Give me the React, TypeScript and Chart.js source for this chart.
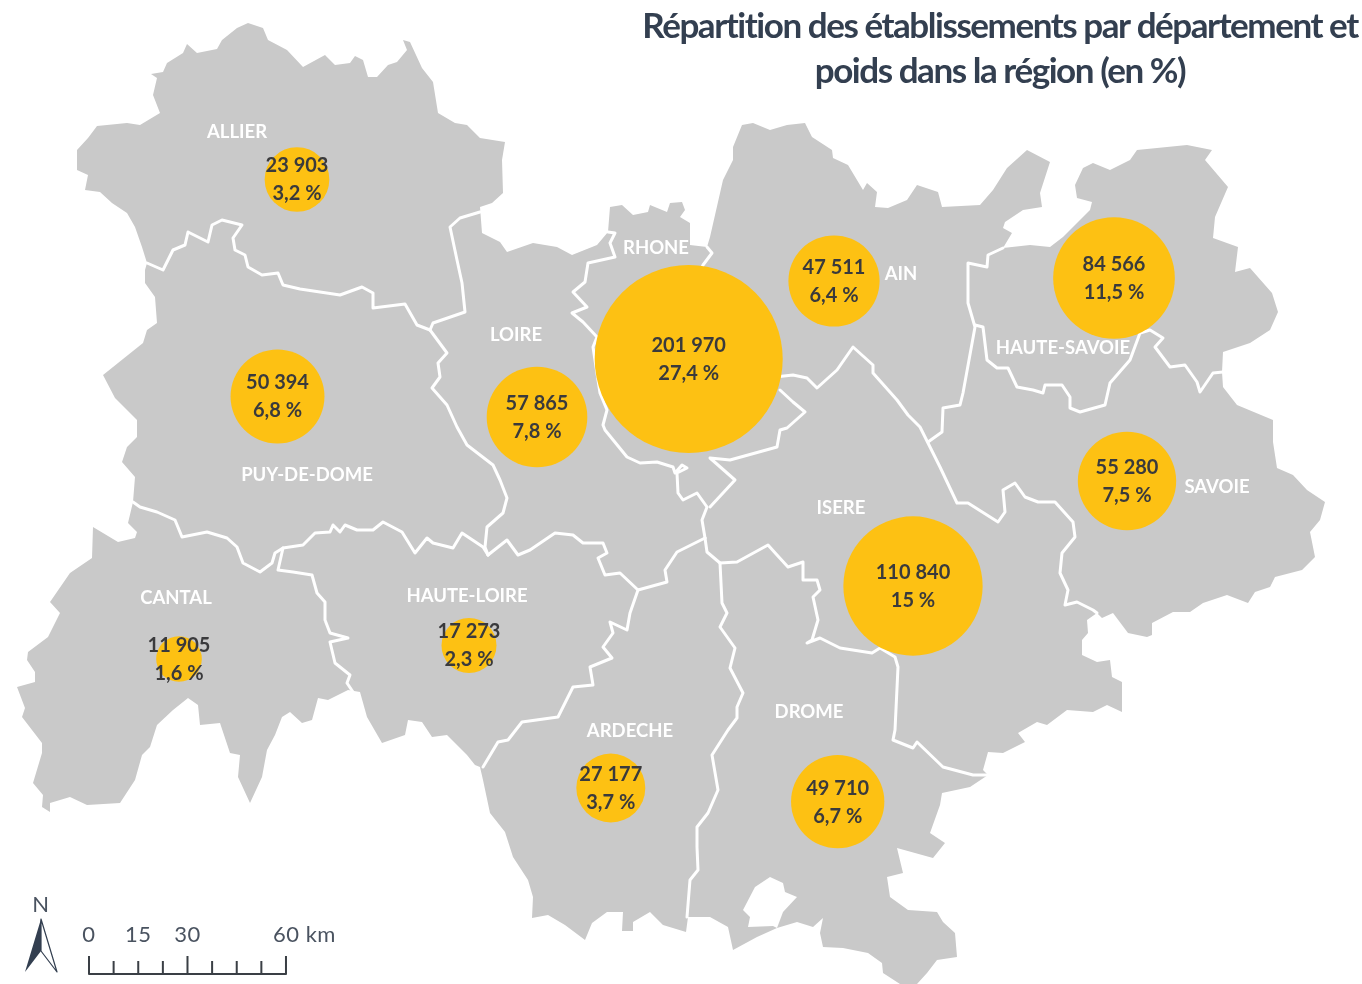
import React, { useEffect, useRef } from "react";
import { Chart, registerables } from "chart.js";

Chart.register(...registerables);

type P = [number, number];

const departments = ["ALLIER", "PUY-DE-DOME", "CANTAL", "HAUTE-LOIRE", "LOIRE", "RHONE", "AIN", "HAUTE-SAVOIE", "SAVOIE", "ISERE", "DROME", "ARDECHE"];
const establishments = [23903, 50394, 11905, 17273, 57865, 201970, 47511, 84566, 55280, 110840, 49710, 27177];
const shares = ["3,2 %", "6,8 %", "1,6 %", "2,3 %", "7,8 %", "27,4 %", "6,4 %", "11,5 %", "7,5 %", "15 %", "6,7 %", "3,7 %"];
const bubbleAnchors: P[] = [[297, 179.5], [277.5, 396.5], [179, 659], [469, 645.5], [537, 417], [688.7, 359], [834, 281], [1114, 278], [1127, 481], [913, 586], [837.7, 801.7], [610.8, 788]];
const nameAnchors: P[] = [[237, 132], [307, 475], [176, 598], [467, 596], [516, 335], [656, 248], [901, 274], [1063, 348], [1217, 487], [841, 508], [809, 712], [630, 731]];

const regionOutline: P[] = [
  [147,263],[142,247],[135,227],[127,213],[112,203],[100,192],[85,190],[88,175],[77,170],[77,150],[88,138],[97,126],[127,123],[140,125],[160,113],[153,95],[157,78],[151,74],[163,72],[167,63],[183,53],[187,44],[197,53],[217,49],[222,40],[237,28],[248,23],[263,28],[268,40],[287,50],[303,67],[325,55],[335,65],[350,63],[355,56],[363,60],[368,77],[377,77],[388,65],[397,62],[407,50],[403,40],[410,42],[422,68],[433,82],[438,113],[455,123],[467,125],[480,138],[505,142],[502,160],[503,193],[492,203],[480,207],[482,233],[500,242],[507,252],[533,243],[557,247],[572,255],[597,245],[608,232],[610,207],[622,205],[633,215],[648,212],[650,205],[667,212],[670,203],[682,202],[685,210],[680,217],[690,223],[690,245],[707,247],[710,237],[723,180],[733,160],[733,147],[742,125],[753,123],[770,130],[787,125],[805,123],[812,137],[832,150],[833,158],[848,165],[863,190],[867,183],[877,192],[875,207],[888,208],[907,200],[917,185],[938,192],[942,207],[980,205],[993,190],[1007,168],[1027,150],[1050,162],[1040,193],[1042,207],[1023,210],[1005,222],[1003,228],[1012,233],[1003,248],[1030,245],[1050,247],[1063,237],[1090,210],[1092,202],[1077,198],[1075,185],[1083,168],[1093,163],[1110,170],[1130,160],[1137,150],[1187,145],[1212,150],[1205,160],[1228,187],[1215,217],[1213,238],[1238,247],[1235,272],[1250,268],[1272,293],[1278,312],[1270,330],[1250,343],[1223,352],[1222,372],[1223,387],[1237,405],[1273,420],[1273,442],[1277,468],[1293,475],[1307,490],[1325,502],[1320,520],[1310,532],[1315,557],[1302,570],[1275,577],[1270,587],[1255,592],[1248,603],[1227,595],[1203,603],[1190,612],[1173,612],[1152,623],[1152,635],[1147,637],[1128,633],[1113,613],[1102,618],[1097,613],[1087,620],[1088,633],[1082,640],[1082,655],[1097,662],[1110,660],[1112,677],[1122,682],[1122,712],[1107,705],[1093,712],[1067,710],[1047,725],[1037,722],[1018,733],[1025,742],[1003,753],[988,752],[983,770],[988,775],[970,787],[942,793],[940,805],[930,833],[945,843],[933,858],[897,848],[903,873],[887,877],[890,897],[908,910],[937,912],[943,922],[955,933],[957,957],[937,960],[927,973],[917,984],[900,984],[883,973],[882,963],[868,953],[843,948],[823,947],[820,933],[823,918],[813,927],[797,922],[777,928],[757,937],[733,950],[728,927],[710,917],[688,917],[686,932],[663,925],[650,912],[633,922],[633,931],[622,931],[623,912],[607,912],[592,923],[585,940],[565,925],[548,915],[532,918],[533,897],[528,880],[513,857],[505,832],[490,813],[483,780],[480,767],[475,765],[467,755],[447,735],[432,737],[422,722],[408,720],[405,735],[382,743],[367,717],[360,692],[348,690],[328,700],[318,698],[312,720],[302,723],[290,712],[282,717],[275,735],[267,750],[262,777],[250,803],[238,777],[240,755],[230,753],[220,723],[200,725],[198,705],[188,698],[173,710],[157,725],[150,747],[142,755],[135,780],[120,803],[87,805],[70,797],[50,803],[50,812],[42,807],[43,795],[33,783],[42,753],[42,743],[22,717],[25,708],[17,687],[35,682],[35,672],[27,660],[28,652],[48,637],[60,613],[50,602],[70,573],[92,558],[93,527],[118,542],[135,538],[137,532],[128,523],[133,502],[135,477],[122,462],[127,447],[137,437],[137,420],[115,398],[103,375],[118,363],[143,343],[147,330],[157,323],[155,297],[145,283],[145,270],[147,263],
];
const enclave: P[] = [[770,877],[783,883],[785,892],[797,897],[783,912],[777,928],[773,926],[748,927],[750,917],[743,910],[755,887],[770,877]];

const borders: P[][] = [
  [[147,263],[163,270],[173,250],[185,245],[188,232],[208,242],[212,225],[222,220],[242,225],[233,238],[235,250],[245,255],[248,267],[262,275],[278,273],[283,285],[300,289],[340,295],[362,287],[373,293],[373,308],[405,304],[417,325],[430,330]],
  [[430,330],[433,323],[465,312],[462,283],[457,260],[450,227],[460,218],[480,212]],
  [[430,330],[447,353],[438,363],[440,377],[432,388],[447,405],[457,427],[467,445],[493,465],[500,480],[507,498],[503,513],[487,527],[485,547],[488,555]],
  [[133,502],[140,507],[157,512],[175,520],[182,537],[207,532],[227,538],[237,547],[243,563],[260,572],[272,563],[275,553],[283,548],[303,545],[315,533],[330,532],[333,525],[340,532],[345,525],[357,530],[373,530],[383,522],[402,532],[415,553],[427,538],[433,543],[453,548],[462,533],[483,547],[488,555]],
  [[283,548],[278,570],[293,572],[312,575],[317,593],[325,602],[325,620],[330,633],[348,638],[330,642],[335,663],[350,675],[347,683],[353,692]],
  [[488,555],[507,540],[518,555],[530,550],[555,533],[573,535],[583,543],[603,543],[607,553],[598,558],[605,575],[620,573],[638,590],[667,582],[665,570],[677,552],[705,538]],
  [[638,590],[630,613],[627,630],[610,622],[613,633],[603,647],[612,658],[590,667],[593,685],[573,687],[558,717],[522,722],[508,740],[498,742],[483,767]],
  [[705,538],[702,520],[707,507],[697,493],[683,500],[678,493],[677,473],[687,468],[682,465],[675,473],[673,467],[657,462],[640,463],[627,457],[605,430],[603,425],[607,410],[600,393],[593,347],[597,337],[583,322],[572,313],[587,307],[573,292],[585,282],[588,263],[615,257],[610,243],[615,233],[608,232]],
  [[707,247],[712,253],[703,265],[690,300]],
  [[775,377],[793,375],[807,378],[817,388],[837,370],[853,347],[873,365],[873,373],[897,400],[908,415],[920,427],[928,443],[940,467],[957,503],[968,503],[998,522],[1005,512],[1003,490],[1015,483],[1025,497],[1038,502],[1055,502],[1073,522],[1075,537],[1062,553],[1060,573],[1068,590],[1065,605],[1077,602],[1093,610],[1097,613]],
  [[780,390],[793,402],[805,412],[787,428],[780,430],[777,447],[730,460],[710,458],[735,480],[710,507]],
  [[928,442],[942,432],[943,408],[960,405],[963,393],[975,327],[968,303],[968,263],[987,267],[988,255],[1003,248]],
  [[975,325],[983,327],[987,360],[997,368],[1008,368],[1017,387],[1033,390],[1043,393],[1045,385],[1062,385],[1070,397],[1070,408],[1080,412],[1105,405],[1110,383],[1130,360],[1140,333],[1150,330],[1163,338],[1155,347],[1170,367],[1185,365],[1197,382],[1200,392],[1213,373],[1223,372]],
  [[705,538],[707,552],[720,563],[737,562],[768,545],[777,555],[788,567],[803,562],[803,580],[817,580],[820,590],[813,597],[818,620],[812,640],[807,643],[820,638],[840,648],[872,653],[880,648],[895,657],[898,667],[895,730],[893,740],[913,748],[917,742],[943,767],[973,775],[988,775]],
  [[720,563],[722,603],[727,613],[720,627],[735,648],[730,668],[743,693],[737,707],[737,718],[728,730],[712,755],[718,790],[708,813],[697,827],[697,847],[698,870],[690,880],[687,917]],
];

const scaleKm = [0, 7.5, 15, 22.5, 30, 37.5, 45, 52.5, 60];
const scaleLabels = ["0", "15", "30", "60 km"];
const arrowFilled: P[] = [[41,919],[41,951],[25,972],[41,919]];
const arrowOutline: P[] = [[41,919],[57,972],[41,951],[41,919]];

const pts = (a: P[]) => a.map(([x, y]) => ({ x, y }));
const fmt = (v: number) => String(v).replace(/\B(?=(\d{3})+$)/g, " ");

export default function App() {
  const ref = useRef<HTMLCanvasElement>(null);
  useEffect(() => {
    const kmX = (km: number) => 89 + km * 3.283;
    const scaleTicks = scaleKm.map((km, i) => ({
      type: "scatter" as const, showLine: true, order: 5, pointRadius: 0, borderColor: "#3a3f45", borderWidth: 2,
      data: pts([[kmX(km), i % 4 === 0 ? 956 : 961], [kmX(km), 974]]),
    }));
    const line = (data: P[], order: number, color: string, width: number) => ({
      type: "scatter" as const, showLine: true, order, pointRadius: 0, borderColor: color, borderWidth: width,
      borderJoinStyle: "round" as const, borderCapStyle: "round" as const, tension: 0, data: pts(data),
    });
    const area = (data: P[], order: number, color: string) => ({
      type: "scatter" as const, showLine: true, order, pointRadius: 0, borderWidth: 0, borderColor: color,
      backgroundColor: color, fill: "shape" as const, tension: 0, data: pts(data),
    });

    const textPlugin = {
      id: "mapText",
      afterDatasetsDraw(c: any) {
        const { ctx, scales } = c;
        const X = (v: number) => scales.x.getPixelForValue(v);
        const Y = (v: number) => scales.y.getPixelForValue(v);
        ctx.save();
        ctx.textAlign = "center";
        ctx.textBaseline = "middle";
        ctx.fillStyle = "#ffffff";
        ctx.font = "700 18.5px Lato";
        (ctx as any).letterSpacing = "0px";
        departments.forEach((d, i) => ctx.fillText(d, X(nameAnchors[i][0]), Y(nameAnchors[i][1])));
        ctx.fillStyle = "#3a3a3c";
        ctx.font = "700 20px Lato";
        establishments.forEach((v, i) => {
          const [x, y] = bubbleAnchors[i];
          ctx.fillText(fmt(v), X(x), Y(y - 13.5));
          ctx.fillText(shares[i], X(x), Y(y + 14.5));
        });
        ctx.fillStyle = "#333F50";
        ctx.font = "700 35px Lato";
        (ctx as any).letterSpacing = "-1.45px";
        ctx.fillText("Répartition des établissements par département et", X(1000), Y(27));
        ctx.fillText("poids dans la région (en %)", X(1000), Y(72));
        (ctx as any).letterSpacing = "0.5px";
        ctx.fillStyle = "#4a5360";
        ctx.font = "400 22px Lato";
        ctx.fillText("N", X(41), Y(905));
        [0, 15, 30].forEach((km, i) => ctx.fillText(scaleLabels[i], X(kmX(km)), Y(935)));
        ctx.textAlign = "left";
        ctx.fillText(scaleLabels[3], X(kmX(60) - 13), Y(935));
        ctx.restore();
      },
    };

    const chart = new Chart(ref.current!, {
      type: "scatter",
      data: {
        datasets: [
          {
            type: "bubble", order: 1, backgroundColor: "#FDC113", borderWidth: 0, clip: false,
            data: establishments.map((v, i) => ({ x: bubbleAnchors[i][0], y: bubbleAnchors[i][1], r: 0.2092 * Math.sqrt(v) })),
          } as any,
          ...scaleTicks,
          line([[kmX(0), 974], [kmX(60), 974]], 5, "#3a3f45", 2),
          area(arrowFilled, 6, "#333F50"),
          line(arrowOutline, 6, "#333F50", 1.2),
          ...borders.map((b) => line(b, 10, "#ffffff", 3)),
          area(enclave, 11, "#ffffff"),
          area(regionOutline, 12, "#C9C9C9"),
        ] as any,
      },
      options: {
        responsive: false,
        animation: false,
        layout: { autoPadding: false, padding: 0 },
        events: [],
        scales: {
          x: { type: "linear", display: false, min: 0, max: 1362 },
          y: { type: "linear", display: false, min: 0, max: 984, reverse: true },
        },
        plugins: { legend: { display: false }, tooltip: { enabled: false }, title: { display: false } },
      },
      plugins: [textPlugin],
    });
    return () => chart.destroy();
  }, []);
  return (
    <div style={{ position: "fixed", left: 0, top: 0, width: 1362, height: 984, background: "#fff" }}>
      <canvas ref={ref} width={1362} height={984} style={{ display: "block" }} />
    </div>
  );
}
